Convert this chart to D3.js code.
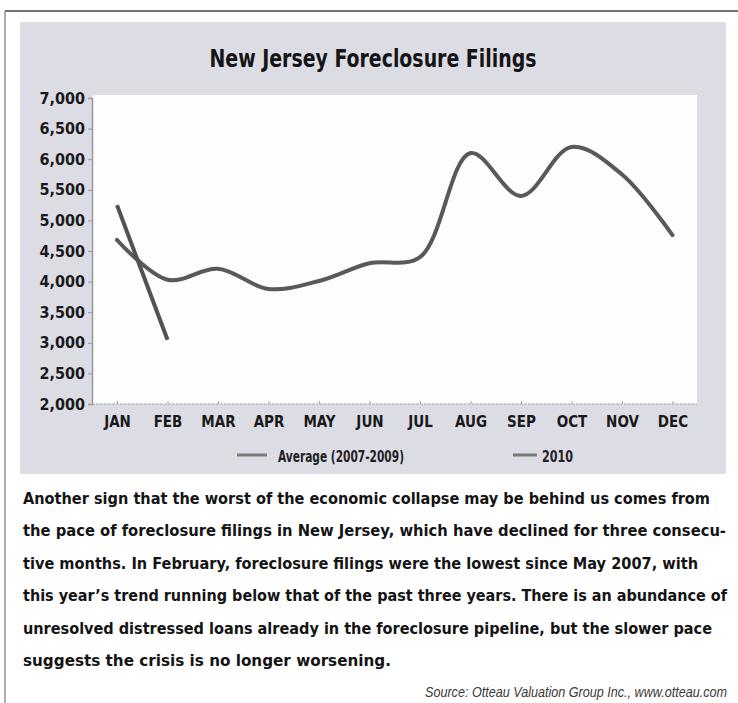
<!DOCTYPE html>
<meta charset="utf-8">
<style>
    body { margin: 0; background: #fff; }
    svg text { font-family: "Liberation Sans Narrow", "DejaVu Sans Condensed", "Roboto Condensed", sans-serif; font-stretch: condensed; }
    .tick text { font-weight: bold; fill: #1a1a1a; }
</style>
<body>
<script src="https://cdn.jsdelivr.net/npm/d3@7"></script>
<script>
    // values
    var months = ["JAN", "FEB", "MAR", "APR", "MAY", "JUN", "JUL", "AUG", "SEP", "OCT", "NOV", "DEC"]
    var avgValues = [4680, 4030, 4210, 3880, 4010, 4300, 4400, 6100, 5400, 6200, 5750, 4760]
    var values2010 = [5250, 3050]
    var seriesNames = ["Average (2007-2009)", "2010"]
    var yTicks = [2000, 2500, 3000, 3500, 4000, 4500, 5000, 5500, 6000, 6500, 7000]
    var title = "New Jersey Foreclosure Filings"
    var bodyLines = [
        "Another sign that the worst of the economic collapse may be behind us comes from",
        "the pace of foreclosure filings in New Jersey, which have declined for three consecu-",
        "tive months. In February, foreclosure filings were the lowest since May 2007, with",
        "this year\u2019s trend running below that of the past three years. There is an abundance of",
        "unresolved distressed loans already in the foreclosure pipeline, but the slower pace",
        "suggests the crisis is no longer worsening."
    ]
    var bodyWidths = [687, 703, 675, 704, 689, 368]
    var source = "Source: Otteau Valuation Group Inc., www.otteau.com"

    var width = 738
    var height = 703

    var svg = d3.select("body").append("svg")
        .attr("width", width)
        .attr("height", height)

    // frame lines
    svg.append("line").attr("x1", 5).attr("x2", width).attr("y1", 11).attr("y2", 11)
        .attr("stroke", "#444").attr("stroke-width", 1.5)
    svg.append("line").attr("x1", 5).attr("x2", 5).attr("y1", 11).attr("y2", height)
        .attr("stroke", "#777").attr("stroke-width", 1.2)

    // grey panel + white plot
    svg.append("rect").attr("x", 20).attr("y", 22).attr("width", 706).attr("height", 452)
        .attr("fill", "#dcdce5")
    svg.append("rect").attr("x", 93).attr("y", 95).attr("width", 604).attr("height", 309)
        .attr("fill", "#fdfdfd")

    var x = d3.scalePoint().domain(months).range([117, 672.5])
    var y = d3.scaleLinear().domain([2000, 7000]).range([404, 98])

    svg.append("text")
        .attr("x", 373).attr("y", 67)
        .attr("text-anchor", "middle")
        .attr("font-size", 25).attr("font-weight", "bold").attr("fill", "#151515")
        .attr("textLength", 327).attr("lengthAdjust", "spacingAndGlyphs")
        .text(title)

    var yAxis = svg.append("g")
        .attr("transform", "translate(92,0)")
        .call(d3.axisLeft(y).tickValues(yTicks).tickSize(4).tickPadding(3)
            .tickFormat(d3.format(",")))
    yAxis.selectAll("text").attr("font-size", 16)
    yAxis.select(".domain").attr("stroke", "#999").attr("stroke-width", 1.5)
    yAxis.selectAll(".tick line").attr("stroke", "#999")

    var xAxis = svg.append("g")
        .attr("transform", "translate(0,404)")
        .call(d3.axisBottom(x).tickSize(3).tickPadding(9).tickSizeOuter(0))
    xAxis.selectAll("text").attr("font-size", 15)
    xAxis.select(".domain").attr("d", "M92,0H697").attr("stroke", "#aaa").attr("stroke-width", 1.2)
        .attr("stroke-dasharray", "3,1")
    xAxis.selectAll(".tick line").attr("stroke", "#aaa").attr("transform", "translate(0,-3)")

    var lineAvg = d3.line()
        .x(function(d, i) { return x(months[i]) })
        .y(function(d) { return y(d) })
        .curve(d3.curveCatmullRom.alpha(0.5))

    var line2010 = d3.line()
        .x(function(d, i) { return x(months[i]) })
        .y(function(d) { return y(d) })

    svg.append("path").datum(avgValues)
        .attr("d", lineAvg)
        .attr("fill", "none").attr("stroke", "#595959").attr("stroke-width", 4)
        .attr("stroke-linecap", "round")

    svg.append("path").datum(values2010)
        .attr("d", line2010)
        .attr("fill", "none").attr("stroke", "#525252").attr("stroke-width", 4)

    // legend
    var legendPos = [{sx: 237, sw: 30, tx: 278, tw: 126}, {sx: 513, sw: 24, tx: 542, tw: 31}]
    var legend = svg.selectAll(".legend").data(seriesNames).enter().append("g")
    legend.append("line")
        .attr("x1", function(d, i) { return legendPos[i].sx })
        .attr("x2", function(d, i) { return legendPos[i].sx + legendPos[i].sw })
        .attr("y1", 455).attr("y2", 455)
        .attr("stroke", "#7a7a7a").attr("stroke-width", 3)
    legend.append("text")
        .attr("x", function(d, i) { return legendPos[i].tx })
        .attr("y", 462)
        .attr("font-size", 15).attr("font-weight", "bold").attr("fill", "#222")
        .attr("textLength", function(d, i) { return legendPos[i].tw })
        .attr("lengthAdjust", "spacingAndGlyphs")
        .text(function(d) { return d })

    // paragraph
    svg.selectAll(".body").data(bodyLines).enter().append("text")
        .attr("x", 23)
        .attr("y", function(d, i) { return 504 + i * 32.4 })
        .attr("font-size", 16).attr("font-weight", "bold").attr("fill", "#141414")
        .attr("textLength", function(d, i) { return bodyWidths[i] })
        .attr("lengthAdjust", "spacingAndGlyphs")
        .text(function(d) { return d })

    // source line, stretched a bit vertically to match the taller print
    svg.append("g")
        .attr("transform", "translate(425,697) scale(1,1.15)")
      .append("text")
        .attr("x", 0).attr("y", 0)
        .attr("font-size", 12.5).attr("font-style", "italic").attr("fill", "#3a3a3a")
        .style("font-family", "'Liberation Sans', sans-serif")
        .attr("textLength", 302).attr("lengthAdjust", "spacingAndGlyphs")
        .text(source)
</script>
</body>
